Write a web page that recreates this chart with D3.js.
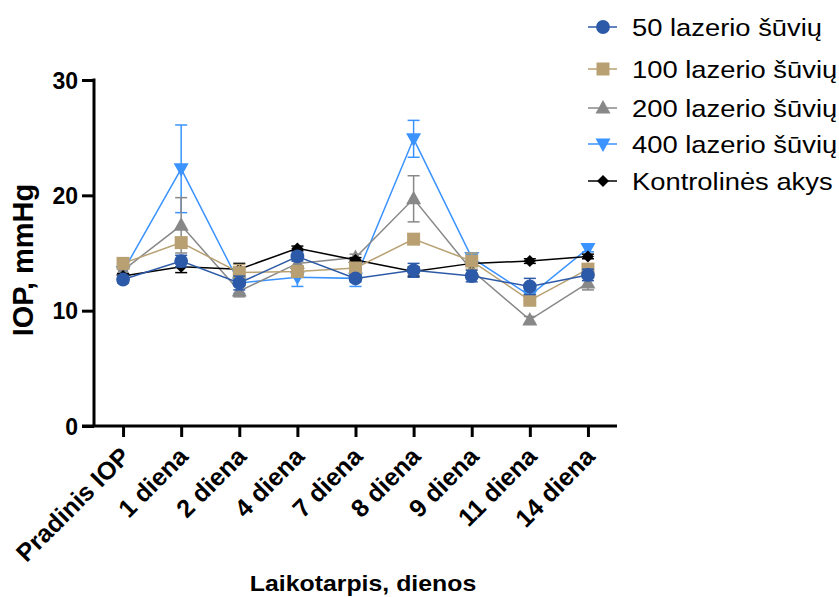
<!DOCTYPE html>
<meta charset="utf-8">
<title>IOP</title>
<style>
  body { margin: 0; background: #fff; }
  text { font-family: "Liberation Sans", Arial, sans-serif; }
  .axis path, .axis line { stroke: #000; stroke-width: 3; }
  .axis text { font-size: 23px; font-weight: bold; fill: #000; }
</style>
<body>
<script src="https://cdn.jsdelivr.net/npm/d3@7"></script>
<script>

// categories and series
var days = ["Pradinis IOP", "1 diena", "2 diena", "4 diena", "7 diena", "8 diena", "9 diena", "11 diena", "14 diena"];
var yTicks = [0, 10, 20, 30];

var s50 = [12.7, 14.3, 12.4, 14.7, 12.8, 13.5, 13.0, 12.1, 13.1];
var s50err = [0.3, 0.5, 0.6, 0.4, 0.3, 0.6, 0.5, 0.7, 0.5];
var s100 = [14.1, 15.9, 13.3, 13.4, 13.7, 16.2, 14.3, 10.9, 13.6];
var s100err = [0.3, 0.4, 0.7, 0.3, 0.3, 0.4, 0.7, 0.3, 0.4];
var s200 = [13.5, 17.4, 11.7, 14.1, 14.6, 19.7, 13.5, 9.2, 12.4];
var s200err = [0.3, 2.4, 0.5, 0.3, 0.3, 2.0, 0.4, 0.3, 0.6];
var s400 = [13.4, 22.3, 12.4, 12.9, 12.8, 24.9, 14.6, 11.3, 15.4];
var s400err = [0.3, 3.8, 0.9, 0.8, 0.7, 1.6, 0.4, 0.4, 0.3];
var ctrl = [13.0, 13.8, 13.6, 15.4, 14.4, 13.4, 14.1, 14.3, 14.7];
var ctrlErr = [0.2, 0.5, 0.5, 0.2, 0.2, 0.4, 0.2, 0.2, 0.2];

var series = [
  {name: "50 lazerio šūvių", values: s50, err: s50err, color: "#2d5aa8", shape: "circle"},
  {name: "100 lazerio šūvių", values: s100, err: s100err, color: "#b8a072", shape: "square"},
  {name: "200 lazerio šūvių", values: s200, err: s200err, color: "#888888", shape: "up"},
  {name: "400 lazerio šūvių", values: s400, err: s400err, color: "#3a93ff", shape: "down"},
  {name: "Kontrolinės akys", values: ctrl, err: ctrlErr, color: "#000000", shape: "diamond"}
];

var W = 839, H = 597;
var plotL = 94, plotR = 617, plotT = 80, plotB = 426;

var svg = d3.select("body").append("svg")
  .attr("width", W)
  .attr("height", H);

var x = d3.scalePoint().domain(days).range([plotL, plotR]).padding(0.5);
var y = d3.scaleLinear().domain([0, 30]).range([plotB, plotT]);

// marker paths
function markerPath(shape) {
  if (shape == "circle") return d3.symbol(d3.symbolCircle, 150)();
  if (shape == "square") return "M-6.5,-6.5H6.5V6.5H-6.5Z";
  if (shape == "up") return "M0,-8L7.5,5.5H-7.5Z";
  if (shape == "down") return "M0,8L7.5,-5.5H-7.5Z";
  return "M0,-6L6,0L0,6L-6,0Z";
}

var line = d3.line()
  .x(function(d, i) { return x(days[i]); })
  .y(function(d) { return y(d); });

// drawing order: back to front
var order = [3, 2, 4, 1, 0];
var plot = svg.append("g");

order.forEach(function(k) {
  var s = series[k];
  var g = plot.append("g");

  // error bars
  var eb = g.selectAll(".eb")
    .data(s.values)
    .enter().append("g");
  eb.append("line")
    .attr("x1", function(d, i) { return x(days[i]); })
    .attr("x2", function(d, i) { return x(days[i]); })
    .attr("y1", function(d, i) { return y(d - s.err[i]); })
    .attr("y2", function(d, i) { return y(d + s.err[i]); })
    .attr("stroke", s.color).attr("stroke-width", 1.5);
  [-1, 1].forEach(function(sign) {
    eb.append("line")
      .attr("x1", function(d, i) { return x(days[i]) - 6; })
      .attr("x2", function(d, i) { return x(days[i]) + 6; })
      .attr("y1", function(d, i) { return y(d + sign * s.err[i]); })
      .attr("y2", function(d, i) { return y(d + sign * s.err[i]); })
      .attr("stroke", s.color).attr("stroke-width", 1.5);
  });

  g.append("path")
    .datum(s.values)
    .attr("d", line)
    .attr("fill", "none")
    .attr("stroke", s.color)
    .attr("stroke-width", 1.5);

  g.selectAll(".mk")
    .data(s.values)
    .enter().append("path")
    .attr("d", markerPath(s.shape))
    .attr("transform", function(d, i) { return "translate(" + x(days[i]) + "," + y(d) + ")"; })
    .attr("fill", s.color);
});

// axes
var xAxis = svg.append("g")
  .attr("class", "axis")
  .attr("transform", "translate(0," + plotB + ")")
  .call(d3.axisBottom(x).tickSizeOuter(0).tickSizeInner(11).tickFormat(""));
xAxis.select(".domain").attr("d", "M" + (plotL - 12) + ",0H" + plotR);

xAxis.selectAll(".tick").append("text")
  .attr("transform", "translate(8,32) rotate(-45)")
  .attr("text-anchor", "end")
  .attr("fill", "#000")
  .style("font-size", "25px")
  .text(function(d) { return d; });

var yAxis = svg.append("g")
  .attr("class", "axis")
  .attr("transform", "translate(" + plotL + ",0)")
  .call(d3.axisLeft(y).tickValues(yTicks).tickSizeOuter(0).tickSizeInner(12).tickPadding(4));
yAxis.select(".domain").attr("d", "M0," + (plotT - 1.5) + "V" + plotB);
yAxis.selectAll(".tick text").attr("dy", "0.36em");

// axis titles
svg.append("text")
  .attr("transform", "translate(33,260) rotate(-90)")
  .attr("text-anchor", "middle")
  .style("font-size", "29px")
  .style("font-weight", "bold")
  .text("IOP, mmHg");

svg.append("text")
  .attr("transform", "translate(363,591) scale(1.13,1)")
  .attr("text-anchor", "middle")
  .style("font-size", "22px")
  .style("font-weight", "bold")
  .text("Laikotarpis, dienos");

// legend
var legendRows = [27, 69, 108, 144, 181];
var legend = svg.append("g");
series.forEach(function(s, i) {
  var row = legend.append("g").attr("transform", "translate(603," + legendRows[i] + ")");
  row.append("line")
    .attr("x1", -15).attr("x2", 14)
    .attr("stroke", s.color).attr("stroke-width", 1.5);
  row.append("path")
    .attr("d", markerPath(s.shape))
    .attr("fill", s.color);
  row.append("text")
    .attr("transform", "translate(29,0) scale(1.14,1)")
    .attr("dy", "0.36em")
    .style("font-size", "24px")
    .text(s.name);
});

</script>
</body>
